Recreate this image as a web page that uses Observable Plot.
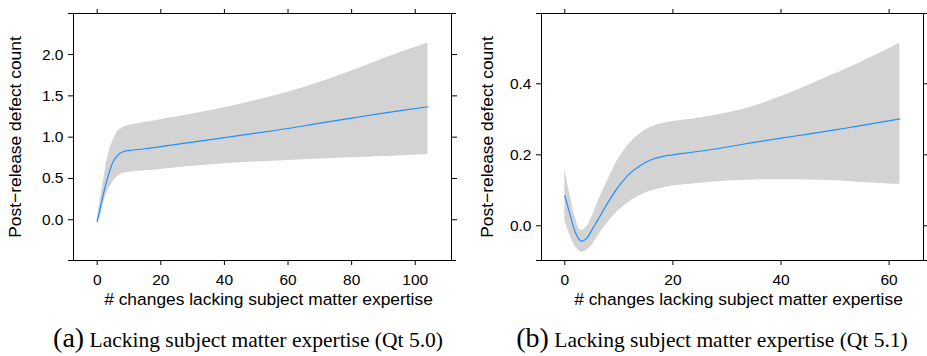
<!DOCTYPE html>
<html><head><meta charset="utf-8">
<script src="https://cdn.jsdelivr.net/npm/d3@7"></script>
<script src="https://cdn.jsdelivr.net/npm/@observablehq/plot@0.6"></script>
<style>
body{margin:0;background:#fff;width:927px;height:356px;position:relative;overflow:hidden;font-family:"Liberation Sans",Arial,sans-serif}
.panel{position:absolute;top:0}
.cap{position:absolute;top:324px;white-space:nowrap;font-family:"Liberation Serif","Times New Roman",serif;font-size:21.5px;color:#000;transform:translateX(-50%);line-height:28px}
.cap .big{font-size:28px}
</style></head><body>
<div id="a" class="panel" style="left:0"></div>
<div id="b" class="panel" style="left:470px"></div>
<div class="cap" style="left:248px"><span class="big">(a)</span> Lacking subject matter expertise (Qt 5.0)</div>
<div class="cap" style="left:712px"><span class="big">(b)</span> Lacking subject matter expertise (Qt 5.1)</div>
<script>
// Panel (a): Qt 5.0
const xA    = [0, 1, 2, 3, 4, 5, 6, 7, 8, 9, 10, 15, 20, 30, 40, 50, 60, 70, 80, 90, 104];
const meanA = [-0.02, 0.15, 0.32, 0.47, 0.60, 0.70, 0.76, 0.80, 0.82, 0.835, 0.84, 0.86, 0.885, 0.94, 0.995, 1.05, 1.105, 1.17, 1.23, 1.29, 1.368];
const lowA  = [-0.06, 0.03, 0.20, 0.32, 0.40, 0.46, 0.51, 0.54, 0.56, 0.57, 0.575, 0.593, 0.61, 0.648, 0.678, 0.70, 0.718, 0.735, 0.75, 0.765, 0.79];
const highA = [0.01, 0.25, 0.48, 0.70, 0.86, 0.96, 1.04, 1.09, 1.115, 1.132, 1.142, 1.178, 1.212, 1.28, 1.356, 1.445, 1.545, 1.665, 1.80, 1.95, 2.14];
const xTicksA = [0, 20, 40, 60, 80, 100];
const yTicksA = [0, 0.5, 1.0, 1.5, 2.0];

// Panel (b): Qt 5.1
const xB    = [0, 1, 2, 3, 4, 5, 6, 7, 8, 9, 10, 12, 14, 16, 18, 20, 25, 30, 35, 40, 45, 50, 55, 62];
const meanB = [0.085, 0.03, -0.02, -0.043, -0.036, -0.012, 0.014, 0.04, 0.066, 0.09, 0.112, 0.147, 0.17, 0.186, 0.195, 0.20, 0.21, 0.222, 0.235, 0.247, 0.258, 0.27, 0.283, 0.301];
const lowB  = [0.015, -0.028, -0.06, -0.074, -0.07, -0.055, -0.033, -0.01, 0.01, 0.028, 0.044, 0.068, 0.086, 0.098, 0.106, 0.112, 0.12, 0.126, 0.129, 0.13, 0.129, 0.127, 0.122, 0.116];
const highB = [0.16, 0.085, 0.02, -0.013, -0.004, 0.025, 0.062, 0.098, 0.13, 0.162, 0.19, 0.232, 0.26, 0.278, 0.288, 0.294, 0.304, 0.318, 0.337, 0.364, 0.395, 0.428, 0.462, 0.514];
const xTicksB = [0, 20, 40, 60];
const yTicksB = [0, 0.2, 0.4];

const xLabel = "# changes lacking subject matter expertise";
const yLabel = "Post\u2212release defect count";

function panel({xs, mean, lo, hi, xDomain, yDomain, xTicks, yTicks, width, marginLeft, marginRight, yLabelDx}) {
  const rows = xs.map((x, i) => ({x, mean: mean[i], lo: lo[i], hi: hi[i]}));
  return Plot.plot({
    width, height: 320, marginLeft, marginRight, marginTop: 13, marginBottom: 60,
    style: {fontFamily: "'Liberation Sans', Arial, sans-serif", fontSize: "15.5px", color: "#000", background: "transparent", overflow: "visible"},
    x: {domain: xDomain},
    y: {domain: yDomain},
    marks: [
      Plot.areaY(rows, {x: "x", y1: "lo", y2: "hi", fill: "#d3d3d3", curve: "catmull-rom"}),
      Plot.lineY(rows, {x: "x", y: "mean", stroke: "#1e90ff", strokeWidth: 1.2, curve: "catmull-rom"}),
      Plot.axisX({anchor: "bottom", ticks: xTicks, tickSize: 5, tickPadding: 8, label: null, tickFormat: "d", fontSize: 15.5}),
      Plot.axisX({anchor: "top", ticks: xTicks, tickSize: 5, label: null, tickFormat: () => ""}),
      Plot.axisY({anchor: "left", ticks: yTicks, tickSize: 5, tickPadding: 5, label: null, tickFormat: ".1f", fontSize: 15.5}),
      Plot.axisY({anchor: "right", ticks: yTicks, tickSize: 5, label: null, tickFormat: () => ""}),
      Plot.frame({stroke: "#000"}),
      Plot.ruleY(yDomain, {stroke: "#000", insetLeft: -5, insetRight: -5}),
      Plot.text([xLabel], {frameAnchor: "bottom", dy: 44, dx: 6, text: d => d, fill: "#000", fontSize: 17.4}),
      Plot.text([yLabel], {frameAnchor: "left", rotate: -90, dx: yLabelDx, textAnchor: "middle", text: d => d, fill: "#000", fontSize: 17.4})
    ]
  });
}

document.getElementById("a").append(panel({
  xs: xA, mean: meanA, lo: lowA, hi: highA,
  xDomain: [-7.45, 111.4], yDomain: [-0.493, 2.497],
  xTicks: xTicksA, yTicks: yTicksA,
  width: 465, marginLeft: 73, marginRight: 14, yLabelDx: -58
}));
document.getElementById("b").append(panel({
  xs: xB, mean: meanB, lo: lowB, hi: highB,
  xDomain: [-4.31, 66.36], yDomain: [-0.0977, 0.598],
  xTicks: xTicksB, yTicks: yTicksB,
  width: 457, marginLeft: 71, marginRight: 4, yLabelDx: -54
}));
</script>
</body></html>
